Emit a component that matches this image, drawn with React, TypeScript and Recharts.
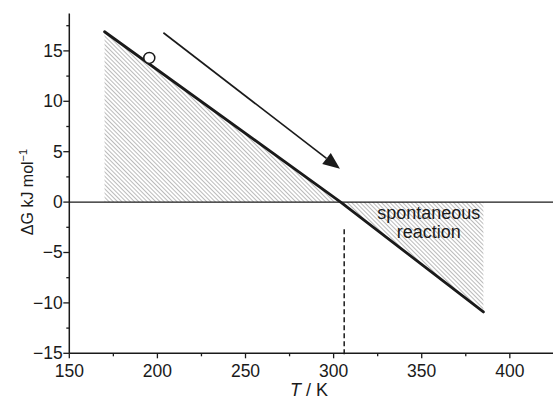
import {
  ComposedChart,
  XAxis,
  YAxis,
  Line,
  Area,
  Scatter,
  ReferenceLine,
  ReferenceDot,
} from 'recharts';

// fitted ΔG(T) line
const temps = [170, 304, 385];
const deltaG = [16.9, 0, -10.9];

// arrow showing the direction of the temperature scan
const arrowT = [203.4, 303.6];
const arrowG = [16.8, 3.3];

// open circle on the line
const markerT = [195.4];
const markerG = [14.3];

// equilibrium temperature (dashed)
const equilibriumT = 306;
const dashG = [-2.7, -15.3];

const labelT = 354;
const labelG = -1.7;

const xTicks = [150, 175, 200, 225, 250, 275, 300, 325, 350, 375, 400];
const yTicks = [-15, -12.5, -10, -7.5, -5, -2.5, 0, 2.5, 5, 7.5, 10, 12.5, 15, 17.5];

const lineData = temps.map((T, i) => ({ T, dG: deltaG[i] }));
const markerData = markerT.map((T, i) => ({ T, dG: markerG[i] }));

const INK = '#1a1a1a';
const FONT = '"Liberation Sans", Arial, sans-serif';

const fmt = (v: number) => (v < 0 ? '\u2212' + Math.abs(v) : String(v));

function XTick({ x, y, payload }: any) {
  const major = payload.value % 50 === 0;
  return (
    <g>
      <line x1={x} y1={y} x2={x} y2={y + (major ? 5 : 3)} stroke={INK} strokeWidth={1.3} />
      {major && (
        <text x={x} y={y + 23.5} textAnchor="middle" fontSize={17.5} fill={INK} fontFamily={FONT}>
          {payload.value}
        </text>
      )}
    </g>
  );
}

function YTick({ x, y, payload }: any) {
  const major = payload.value % 5 === 0;
  return (
    <g>
      <line x1={x - (major ? 6 : 3)} y1={y} x2={x} y2={y} stroke={INK} strokeWidth={1.3} />
      {major && (
        <text x={x - 6.5} y={y + 6} textAnchor="end" fontSize={17.5} fill={INK} fontFamily={FONT}>
          {fmt(payload.value)}
        </text>
      )}
    </g>
  );
}

function Arrow(props: any) {
  const { x1, y1, x2, y2 } = props;
  const ang = Math.atan2(y2 - y1, x2 - x1);
  const len = 17;
  const half = 7;
  const bx = x2 - len * Math.cos(ang);
  const by = y2 - len * Math.sin(ang);
  const px = -Math.sin(ang) * half;
  const py = Math.cos(ang) * half;
  return (
    <g>
      <line x1={x1} y1={y1} x2={bx} y2={by} stroke={INK} strokeWidth={1.6} />
      <polygon points={`${x2},${y2} ${bx + px},${by + py} ${bx - px},${by - py}`} fill={INK} />
    </g>
  );
}

export default function App() {
  return (
    <div style={{ position: 'absolute', left: 0, top: 0 }}>
      <ComposedChart
        width={553}
        height={401}
        margin={{ top: 13.6, right: 0, bottom: 17.7, left: 30 }}
        style={{ fontFamily: FONT }}
      >
        <defs>
          <pattern
            id="hatch"
            patternUnits="userSpaceOnUse"
            width={3}
            height={3}
            patternTransform="rotate(-45)"
          >
            <line x1={0} y1={0} x2={0} y2={3} stroke="#8c8c8c" strokeWidth={1.2} />
          </pattern>
        </defs>
        <XAxis
          dataKey="T"
          type="number"
          domain={[150, 424.5]}
          allowDataOverflow
          ticks={xTicks}
          interval={0}
          tickSize={0}
          tickMargin={0}
          tickLine={false}
          tick={<XTick />}
          axisLine={{ stroke: INK, strokeWidth: 1.5 }}
          height={30}
          label={{
            content: ({ viewBox }: any) => (
              <text
                x={309}
                y={viewBox.y + 43}
                textAnchor="middle"
                fontSize={18}
                fill={INK}
                fontFamily={FONT}
              >
                <tspan fontStyle="italic">T</tspan> / K
              </text>
            ),
          }}
        />
        <YAxis
          dataKey="dG"
          type="number"
          domain={[-15, 18.7]}
          allowDataOverflow
          ticks={yTicks}
          interval={0}
          tickSize={0}
          tickMargin={0}
          tickLine={false}
          tick={<YTick />}
          axisLine={{ stroke: INK, strokeWidth: 1.5 }}
          width={39.3}
          label={{
            content: () => (
              <text
                x={32.5}
                y={192}
                transform="rotate(-90 32.5 192)"
                textAnchor="middle"
                fontSize={16}
                fill={INK}
                fontFamily={FONT}
              >
                {'\u0394G kJ mol'}
                <tspan dy={-6} fontSize={11}>{'\u22121'}</tspan>
              </text>
            ),
          }}
        />
        <Area
          data={lineData}
          dataKey="dG"
          type="linear"
          baseValue={0}
          stroke="none"
          fill="url(#hatch)"
          fillOpacity={1}
          isAnimationActive={false}
        />
        <ReferenceLine y={0} stroke={INK} strokeWidth={1.4} />
        <ReferenceLine
          segment={[
            { x: equilibriumT, y: dashG[0] },
            { x: equilibriumT, y: dashG[1] },
          ]}
          stroke={INK}
          strokeWidth={1.5}
          strokeDasharray="5 3"
          ifOverflow="visible"
        />
        <Line
          data={lineData}
          dataKey="dG"
          type="linear"
          stroke={INK}
          strokeWidth={2.8}
          strokeLinecap="round"
          dot={false}
          activeDot={false}
          isAnimationActive={false}
        />
        <ReferenceLine
          segment={[
            { x: arrowT[0], y: arrowG[0] },
            { x: arrowT[1], y: arrowG[1] },
          ]}
          shape={<Arrow />}
          ifOverflow="visible"
        />
        <Scatter
          data={markerData}
          dataKey="dG"
          isAnimationActive={false}
          shape={(p: any) => (
            <circle cx={p.cx} cy={p.cy} r={5.5} fill="#fff" stroke={INK} strokeWidth={1.5} />
          )}
        />
        <ReferenceDot
          x={labelT}
          y={labelG}
          r={1}
          fill="none"
          stroke="none"
          label={{
            content: ({ viewBox }: any) => {
              const cx = viewBox.x + viewBox.width / 2;
              const cy = viewBox.y + viewBox.height / 2;
              return (
                <text textAnchor="middle" fontSize={18} fill={INK} fontFamily={FONT}>
                  <tspan x={cx} y={cy}>spontaneous</tspan>
                  <tspan x={cx} y={cy + 19}>reaction</tspan>
                </text>
              );
            },
          }}
        />
      </ComposedChart>
    </div>
  );
}
